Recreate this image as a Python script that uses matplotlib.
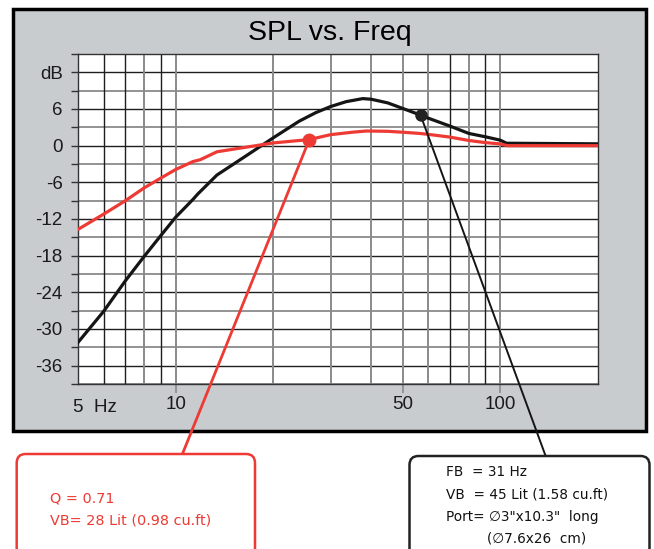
import matplotlib
matplotlib.use("Agg")
import matplotlib.pyplot as plt
from matplotlib.patches import Rectangle, FancyBboxPatch

# ---- data ----
freq_vented = [5, 6, 7, 8, 9, 10, 11.3, 11.7, 13.4, 15.8, 20, 24, 27, 30, 33.5, 37.7, 40,
               45, 50, 56.8, 60, 70, 80, 90, 100, 104.5, 200]
db_vented = [-32.2, -27.1, -22.1, -18.1, -14.7, -11.7, -8.8, -7.9, -4.8, -2.3, 1.3, 4.0, 5.4,
             6.4, 7.2, 7.7, 7.6, 7.0, 6.1, 5.0, 4.5, 3.2, 2.0, 1.45, 0.9, 0.4, 0.3]

freq_sealed = [5, 6, 7, 8, 9, 10, 11.3, 11.9, 13.4, 15.8, 20, 25.8, 30, 35, 38.7, 45, 50,
               56.5, 60, 70, 80, 90, 100, 105, 200]
db_sealed = [-13.7, -11.2, -9.0, -6.9, -5.3, -3.9, -2.6, -2.3, -1.0, -0.4, 0.45, 1.0, 1.8,
             2.2, 2.4, 2.35, 2.2, 2.0, 1.85, 1.4, 0.85, 0.5, 0.28, 0.0, 0.0]

sealed_marker = (25.8, 1.0)
vented_marker = (56.8, 5.0)

y_ticks = list(range(-39, 16, 3))
y_labels = {12: "dB", 6: "6", 0: "0", -6: "-6", -12: "-12", -18: "-18",
            -24: "-24", -30: "-30", -36: "-36"}
x_ticks = [10, 50, 100]
x_labels = ["10", "50", "100"]
x_grid = [6, 7, 8, 9, 10, 20, 30, 40, 50, 60, 70, 80, 90, 100]
x_grid_dark = [6, 7, 9, 70, 90]

title = "SPL vs. Freq"
sealed_text = ["Q = 0.71", "VB= 28 Lit (0.98 cu.ft)"]
vented_text = ["FB  = 31 Hz", "VB  = 45 Lit (1.58 cu.ft)",
               "Port= \u22053\"x10.3\"  long", "(\u22057.6x26  cm)"]

RED = "#ee3a34"
BLACK = "#151515"

W, H = 654, 549
fig = plt.figure(figsize=(W / 100, H / 100), dpi=100)
fig.patch.set_facecolor("white")

def fx(px):
    return px / W

def fy(py):
    return 1 - py / H

# gray panel
panel = Rectangle((fx(13), fy(431)), (646 - 13) / W, (431 - 9) / H,
                  transform=fig.transFigure, facecolor="#c9cccf",
                  edgecolor="black", linewidth=2.5, zorder=-1)
fig.add_artist(panel)

fig.text(fx(330), fy(33), title, ha="center", va="center",
         fontsize=20.5, family="Liberation Sans", color="black")

ax = fig.add_axes([fx(78), fy(384), (598 - 78) / W, (384 - 54) / H])
ax.set_facecolor("white")
ax.set_xscale("log")
ax.set_xlim(5, 200)
ax.set_ylim(-39, 15)

for i, v in enumerate(y_ticks):
    dark = (v % 6 == 0)
    ax.axhline(v, color="#1e1e1e" if dark else "#8a8a8a",
               lw=1.0 if dark else 1.3, zorder=1)
for v in x_grid:
    dark = v in x_grid_dark
    ax.axvline(v, color="#1e1e1e" if dark else "#8a8a8a",
               lw=1.0 if dark else 1.4, zorder=1)

for s in ax.spines.values():
    s.set_color("#333333")
    s.set_linewidth(1.0)

ax.set_yticks(y_ticks)
ax.set_yticklabels([y_labels.get(v, "") for v in y_ticks])
ax.set_xticks(x_ticks)
ax.set_xticklabels(x_labels)
ax.xaxis.set_minor_locator(matplotlib.ticker.NullLocator())
ax.tick_params(axis="y", length=5, width=1.0, color="#333333", pad=6,
               labelsize=13.5, labelcolor="#1a1a1a")
ax.tick_params(axis="x", length=6.5, width=1.2, color="#8a8a8a", pad=2,
               labelsize=13.5, labelcolor="#1a1a1a")
for lab in ax.get_xticklabels() + ax.get_yticklabels():
    lab.set_family("Liberation Sans")

fig.text(fx(73), fy(407), "5  Hz", ha="left", va="center", fontsize=13.5,
         family="Liberation Sans", color="#1a1a1a")

ax.plot(freq_vented, db_vented, color=BLACK, lw=2.3, zorder=3,
        solid_joinstyle="round")
ax.plot(freq_sealed, db_sealed, color=RED, lw=2.3, zorder=4,
        solid_joinstyle="round")

# callout lines
ax.annotate("", xy=sealed_marker, xycoords="data",
            xytext=(fx(182), fy(455)), textcoords="figure fraction",
            arrowprops=dict(arrowstyle="-", color=RED, lw=2.0,
                            shrinkA=0, shrinkB=0),
            annotation_clip=False, zorder=5)
ax.annotate("", xy=vented_marker, xycoords="data",
            xytext=(fx(546), fy(457)), textcoords="figure fraction",
            arrowprops=dict(arrowstyle="-", color=BLACK, lw=1.4,
                            shrinkA=0, shrinkB=0),
            annotation_clip=False, zorder=5)

ax.plot(*sealed_marker, marker="o", ms=9, color=RED, zorder=6, clip_on=False)
ax.plot(*vented_marker, marker="o", ms=8, color="#222222", zorder=6,
        clip_on=False)

# boxes (in inches)
red_box = FancyBboxPatch((0.167, -0.31), 2.383, (580 - 454) / 100,
                         boxstyle="round,pad=0,rounding_size=0.09",
                         transform=fig.dpi_scale_trans, facecolor="white",
                         edgecolor=RED, lw=1.8, zorder=2)
fig.add_artist(red_box)
blk_box = FancyBboxPatch((4.095, -0.31), 2.40, (580 - 456) / 100,
                         boxstyle="round,pad=0,rounding_size=0.09",
                         transform=fig.dpi_scale_trans, facecolor="white",
                         edgecolor="#222222", lw=1.8, zorder=2)
fig.add_artist(blk_box)

for txt, yy in zip(sealed_text, [498, 521]):
    fig.text(fx(50), fy(yy), txt, ha="left", va="center", fontsize=10.4,
             family="DejaVu Sans", color=RED, zorder=3)
for txt, xx, yy in zip(vented_text, [446, 446, 446, 487], [472, 494, 517, 538]):
    fig.text(fx(xx), fy(yy), txt, ha="left", va="center", fontsize=9.8,
             family="DejaVu Sans", color="#111111", zorder=3)

fig.savefig("out.png", dpi=100)
